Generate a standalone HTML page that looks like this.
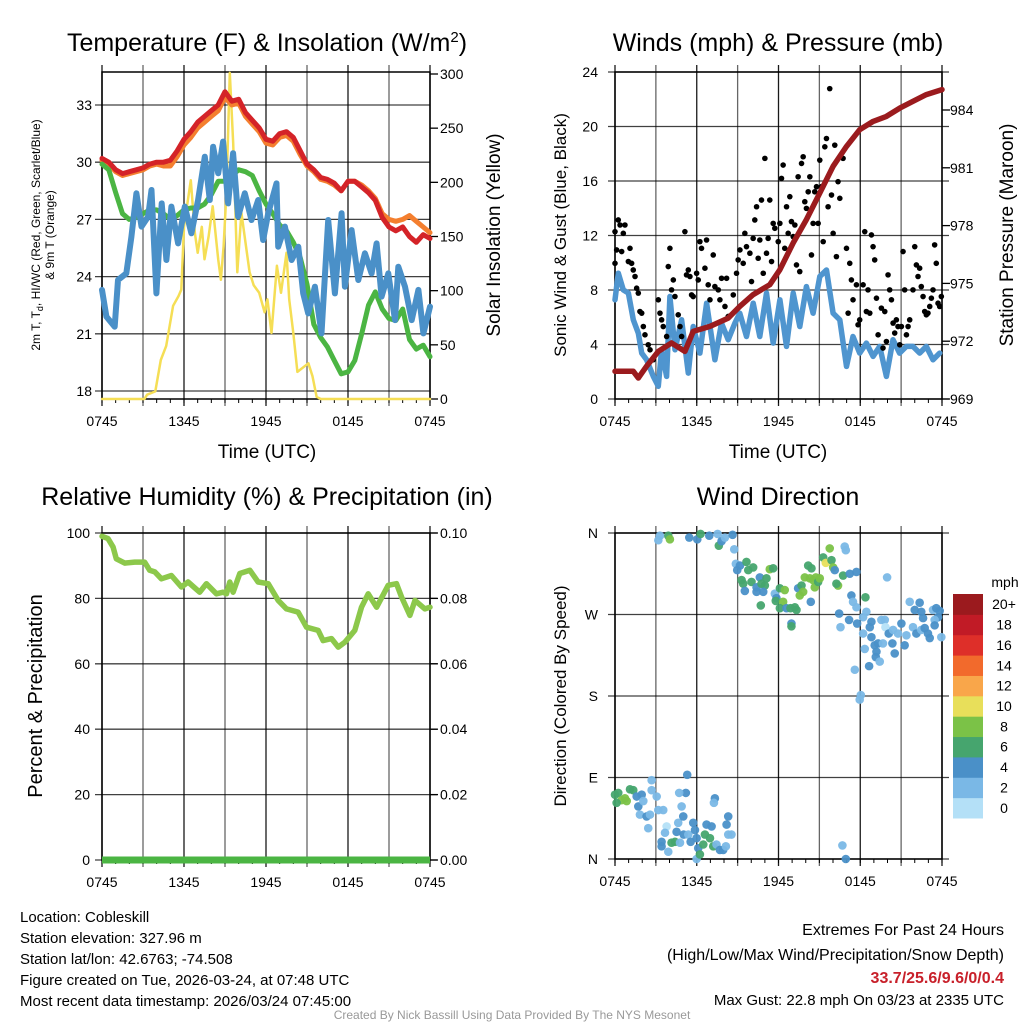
<!DOCTYPE html>
<html><head><meta charset="utf-8"><style>
body{margin:0;background:#fff;}
svg{display:block;font-family:"Liberation Sans",sans-serif;}
</style></head><body>
<svg id="c" width="1024" height="1024" viewBox="0 0 1024 1024">
<g font-size="25" text-anchor="middle">
<text x="267" y="51">Temperature (F) &amp; Insolation (W/m<tspan dy="-9" font-size="15">2</tspan><tspan dy="9">)</tspan></text>
<text x="778" y="51">Winds (mph) &amp; Pressure (mb)</text>
<text x="267" y="505">Relative Humidity (%) &amp; Precipitation (in)</text>
<text x="778" y="505">Wind Direction</text>
</g>
<g font-size="19" text-anchor="middle">
<text x="267" y="458">Time (UTC)</text>
<text x="778" y="458">Time (UTC)</text>
<text transform="translate(500,235) rotate(-90)">Solar Insolation (Yellow)</text>
<text transform="translate(1013,235) rotate(-90)">Station Pressure (Maroon)</text>
</g>
<g font-size="17" text-anchor="middle">
<text transform="translate(566,235) rotate(-90)">Sonic Wind &amp; Gust (Blue, Black)</text>
<text transform="translate(566,696) rotate(-90)">Direction (Colored By Speed)</text>
<text transform="translate(42,696) rotate(-90)" font-size="20">Percent &amp; Precipitation</text>
</g>
<g font-size="12" text-anchor="middle">
<text transform="translate(40,235) rotate(-90)">2m T, T<tspan dy="3" font-size="9">d</tspan><tspan dy="-3">, HI/WC (Red, Green, Scarlet/Blue)</tspan></text>
<text transform="translate(54,235) rotate(-90)">&amp; 9m T (Orange)</text>
</g>
<g font-size="15">
<text x="20" y="922">Location: Cobleskill</text>
<text x="20" y="943">Station elevation: 327.96 m</text>
<text x="20" y="964">Station lat/lon: 42.6763; -74.508</text>
<text x="20" y="985">Figure created on Tue, 2026-03-24, at 07:48 UTC</text>
<text x="20" y="1006">Most recent data timestamp: 2026/03/24 07:45:00</text>
</g>
<g font-size="16" text-anchor="end">
<text x="1004" y="935">Extremes For Past 24 Hours</text>
<text x="1004" y="960">(High/Low/Max Wind/Precipitation/Snow Depth)</text>
<text x="1004" y="983" fill="#c8202a" font-weight="bold">33.7/25.6/9.6/0/0.4</text>
<text x="1004" y="1005" font-size="15">Max Gust: 22.8 mph On 03/23 at 2335 UTC</text>
</g>
<text x="512" y="1019" font-size="12" fill="#999" text-anchor="middle">Created By Nick Bassill Using Data Provided By The NYS Mesonet</text>
</svg>
<script>
// ---- data ----
const xTickLabels=["0745","1345","1945","0145","0745"];
const tempTicks=[18,21,24,27,30,33];
const solarTicks=[0,50,100,150,200,250,300];
const windTicks=[0,4,8,12,16,20,24];
const presTicks=[969,972,975,978,981,984];
const rhTicks=[0,20,40,60,80,100];
const precipTicks=["0.00","0.02","0.04","0.06","0.08","0.10"];
const dirTicks=["N","E","S","W","N"];
const speedBins=["0","2","4","6","8","10","12","14","16","18","20+"];
const speedColors=["#b4e0f7","#7ab8e6","#4a90c8","#46a56e","#7bc247","#e8df5a","#f9a64a","#f26a2c","#de2f29","#c11b26","#9b1a1e"];

const halfHours=Array.from({length:49},(_,i)=>i*0.5);
const tempRed=[30.2,30.0,29.6,29.4,29.5,29.6,29.7,29.9,30.0,30.0,30.1,30.6,31.2,31.6,32.1,32.4,32.7,33.0,33.7,33.2,33.3,32.6,32.2,31.8,31.2,31.1,31.5,31.6,31.3,30.6,29.9,29.6,29.2,29.1,28.9,28.5,29.0,29.0,28.7,28.4,28.0,27.1,26.6,26.4,26.6,26.1,25.8,26.2,26.0];
const tempOrange=[30.1,29.9,29.5,29.3,29.4,29.5,29.6,29.8,29.9,29.8,29.8,30.3,30.9,31.3,31.8,32.1,32.4,32.7,33.4,33.0,33.1,32.4,32.0,31.6,31.0,30.9,31.3,31.4,31.1,30.4,29.8,29.5,29.1,29.0,28.8,28.5,29.0,29.0,28.8,28.5,28.1,27.3,27.0,26.9,27.0,27.2,26.9,26.6,26.3];
const tempGreen=[29.9,29.6,28.4,27.3,27.0,27.1,27.3,27.5,27.5,27.3,27.0,27.2,27.5,27.6,27.6,27.8,28.3,29.0,29.0,29.3,29.6,29.5,29.3,28.5,27.8,27.3,26.7,26.4,25.8,25.0,23.6,21.5,20.8,20.3,19.6,18.9,19.0,19.6,21.0,22.5,23.2,22.3,21.8,21.7,22.3,20.7,20.2,20.4,19.8];
const blueHours=[0,0.32,0.93,1.17,1.78,2.15,2.52,2.89,3.37,3.62,3.98,4.37,4.71,5.08,5.57,6.06,6.54,7.03,7.52,7.89,8.13,8.50,8.86,9.23,9.59,9.96,10.45,10.94,11.43,11.79,12.16,12.77,12.89,13.38,13.87,14.36,14.72,15.09,15.58,16.06,16.55,17.04,17.53,17.77,18.26,18.75,19.24,19.73,20.09,20.46,20.95,21.44,21.68,22.17,22.66,23.15,23.52,24];
const tempBlue=[23.30,21.90,21.37,23.82,24.17,26.09,28.37,26.62,27.14,28.54,23.12,27.84,24.87,27.67,25.74,27.67,26.27,28.02,30.29,28.02,30.81,29.42,31.08,27.84,30.47,27.14,28.37,26.97,28.02,25.92,27.32,28.89,25.57,26.62,24.87,25.57,23.12,22.07,23.47,21.02,26.97,23.12,27.32,23.47,26.44,23.82,25.22,24.17,25.74,22.95,24.17,21.72,24.52,23.47,21.72,23.30,21.02,22.42];
const solarHours=[0,3.1,3.3,3.9,4.3,4.7,5.2,5.6,5.8,6.0,6.5,6.8,7.0,7.3,7.5,7.8,8.1,8.5,8.7,8.9,9.1,9.35,9.6,9.9,10.2,10.6,10.8,11.1,11.5,11.9,12.1,12.4,12.8,13.1,13.5,13.7,14.0,14.3,15.1,15.4,15.7,16.0,24];
const solar=[0,0,4,7,36,49,86,95,101,159,202,153,135,159,129,150,178,129,110,141,190,301,236,117,172,135,117,105,98,80,92,61,123,98,135,92,61,25,33,21,2,0,0];

const windHours=[0,0.24,0.61,0.98,1.34,1.71,1.96,2.32,2.81,3.18,3.42,3.79,4.03,4.40,4.89,5.38,5.74,6.23,6.72,7.33,7.82,8.31,8.80,9.16,9.65,10.14,10.63,11.12,11.61,12.10,12.59,13.08,13.56,14.05,14.54,15.03,15.52,16.01,16.50,16.99,17.47,17.96,18.45,18.94,19.43,19.92,20.40,20.89,21.38,21.87,22.36,22.85,23.34,23.83];
const windSpeed=[7.28,9.23,8.01,7.77,5.81,4.84,3.37,2.88,1.66,0.93,3.61,1.66,7.52,3.61,5.81,1.90,5.32,3.37,7.03,2.88,5.57,4.35,5.57,6.30,4.59,7.03,4.59,7.77,4.10,7.28,3.86,7.77,5.32,8.25,6.30,8.99,9.47,6.30,5.81,2.39,4.59,3.37,4.10,3.13,3.86,1.66,4.35,3.37,3.86,3.86,3.37,3.86,2.88,3.37];
const presHours=[0,1.34,1.71,2.32,3.18,4.15,5.13,5.74,6.97,8.31,9.17,10.14,11.36,12.10,13.08,14.05,15.03,16.01,16.99,17.96,18.94,19.92,20.90,21.87,22.85,24];
const pressure=[970.44,970.44,970.09,970.70,971.47,971.91,971.47,972.51,972.77,973.20,973.81,974.42,974.93,975.71,977.10,978.31,979.69,981.08,982.11,982.98,983.41,983.67,984.10,984.45,984.80,985.06];
const gustHours=[0,0.24,0.37,0.73,0.61,0.12,0.49,0,0.98,1.10,1.22,1.34,1.47,1.59,1.71,1.83,1.96,2.08,2.20,2.44,2.57,2.81,3.18,3.30,3.42,3.54,3.79,3.91,4.03,4.15,4.28,4.40,4.64,4.77,4.89,5.13,5.25,5.38,5.50,5.62,5.74,5.99,6.11,6.23,6.35,6.60,6.72,6.84,6.97,7.21,7.33,7.58,7.70,7.82,8.07,8.19,8.31,8.68,8.92,9.04,9.17,9.41,9.53,9.65,9.90,10.02,10.14,10.26,10.39,10.51,10.63,10.75,10.88,11.00,11.12,11.24,11.36,11.49,11.61,11.73,11.98,12.10,12.22,12.34,12.46,12.59,12.71,12.83,12.95,13.08,13.20,13.32,13.44,13.56,13.69,13.81,13.93,14.05,14.18,14.30,14.42,14.54,14.66,14.79,14.91,15.03,15.15,15.28,15.40,15.52,15.64,15.76,15.89,16.01,16.13,16.25,16.37,16.50,16.74,16.99,17.11,17.23,17.35,17.47,17.72,17.84,17.96,18.21,18.33,18.45,18.57,18.70,18.82,18.94,19.06,19.19,19.31,19.55,19.67,19.80,19.92,20.04,20.16,20.29,20.41,20.53,20.65,20.77,20.90,21.02,21.14,21.26,21.39,21.51,21.63,21.87,22.00,22.12,22.24,22.36,22.48,22.61,22.73,22.85,22.97,23.10,23.22,23.34,23.46,23.58,23.71,23.83,23.95];
const gustSpeed=[12.28,13.14,12.77,12.77,12.16,10.94,10.82,9.96,10.09,11.06,9.96,9.47,8.99,8.13,7.77,6.42,6.30,5.32,4.71,3.98,3.61,2.88,7.28,6.30,5.81,5.32,4.59,9.72,11.06,8.01,8.74,7.52,6.18,5.32,4.59,12.28,9.11,9.47,8.99,7.64,7.52,9.23,8.74,11.55,11.06,9.60,11.67,8.38,7.28,10.57,8.25,8.01,7.28,8.86,6.79,8.86,6.06,7.64,9.23,10.21,10.94,9.96,12.16,11.18,10.70,8.62,11.79,13.14,14.11,10.33,11.67,14.60,9.23,17.66,10.70,11.79,14.60,10.09,12.89,12.53,11.55,12.89,16.19,17.17,11.06,14.11,12.16,14.85,13.02,11.92,12.77,9.84,16.31,9.35,17.29,17.78,14.48,13.99,15.21,16.31,10.57,12.89,15.21,15.58,12.89,17.53,15.58,11.55,18.51,19.12,14.11,22.78,14.97,12.16,18.63,10.45,15.95,14.73,17.66,11.06,6.30,9.96,8.74,7.28,8.38,5.45,5.81,8.38,12.28,6.42,8.01,6.30,12.04,11.18,10.21,7.40,4.71,6.67,3.74,6.42,4.22,9.11,8.01,7.28,5.57,4.84,5.81,5.32,3.98,5.32,10.82,8.01,4.71,5.32,5.81,8.01,11.18,9.84,8.99,9.60,8.25,7.52,6.42,6.18,6.30,6.79,7.40,8.01,11.31,9.96,7.03,6.79,7.52];

const rhHours=[0,0.44,0.81,1.05,1.66,2.39,3.12,3.49,3.86,4.35,5.08,5.81,6.30,7.15,7.64,8.37,8.86,9.11,9.35,9.59,10.08,10.82,11.42,12.16,12.89,13.5,14.35,14.96,15.82,16.18,16.79,17.28,17.77,18.5,18.99,19.48,20.09,20.94,21.55,21.92,22.53,22.9,23.63,24];
const rh=[99.0,98.3,95.7,92.1,90.8,91.1,91.1,88.6,88.1,86.0,87.0,83.5,85.0,81.9,84.5,81.4,81.9,81.4,85.0,81.9,87.6,88.6,85.0,84.5,79.4,76.8,75.8,71.2,70.2,67.1,67.7,65.1,66.6,70.2,77.3,81.4,77.3,84.0,84.5,80.4,74.8,79.4,76.8,77.3];
const precip=[0,0];

const dirHours=[3.30,3.18,3.91,4.03,5.45,6.04,6.28,6.92,7.53,7.62,7.82,8.07,8.63,8.75,8.87,8.97,9.17,9.65,9.78,10.14,9.29,9.41,9.53,10.02,10.39,10.63,10.75,11.00,10.39,10.88,11.12,11.36,11.61,10.70,11.73,11.85,12.10,12.46,11.80,12.34,12.10,12.59,12.88,13.20,13.32,12.95,12.95,13.44,13.69,13.56,13.81,13.93,14.18,14.42,14.30,14.54,14.66,14.74,14.91,15.03,14.37,15.28,15.47,15.76,15.89,16.01,16.13,16.37,16.25,16.74,16.86,16.94,17.23,17.72,18.38,17.35,17.47,17.72,16.45,17.18,16.55,17.77,18.21,18.45,18.70,18.82,18.21,18.82,19.06,18.33,19.19,19.14,19.43,18.65,19.31,19.67,19.55,19.80,19.85,20.09,19.97,20.41,20.36,20.53,21.02,20.77,21.26,21.39,21.63,22.00,22.36,22.48,22.61,21.87,22.12,22.48,22.73,22.97,23.10,23.34,23.58,23.83,23.71,23.46,23.46,23.95,17.60,18.04,17.96,
0,0.24,0.49,0.73,0.86,1.10,1.34,0.12,1.59,1.96,1.71,1.83,2.08,2.32,2.57,2.44,2.69,2.69,3.06,3.18,3.54,3.79,3.67,3.42,3.42,3.91,4.15,4.40,4.52,4.77,4.64,4.89,5.01,5.20,4.71,5.30,5.04,5.38,5.55,5.74,5.87,5.99,6.11,5.99,6.23,6.48,6.60,6.72,6.97,7.21,7.09,7.33,7.26,7.45,7.70,7.94,8.14,8.19,8.31,8.31,8.55,16.69,16.94];
const dirDeg=[357,352,357,353,355,353,359,357,359,346,351,355,358,342,326,319,324,328,319,322,308,304,296,306,300,311,304,302,295,295,310,320,321,280,293,288,299,297,285,284,277,277,277,278,275,260,257,299,302,291,295,311,324,321,310,308,300,311,306,310,284,333,327,343,330,322,319,302,304,313,345,341,315,317,289,291,284,278,271,264,256,260,267,273,256,262,249,245,236,232,229,223,218,213,238,238,264,264,256,249,311,253,238,227,260,249,236,247,284,275,283,273,266,256,249,253,255,249,244,275,277,274,267,264,258,245,209,181,176,
71,73,65,67,64,77,76,62,69,71,58,49,64,47,49,34,87,76,69,54,54,36,29,19,14,8,18,19,30,18,40,58,47,73,73,93,27,27,19,40,32,23,12,0,5,16,27,38,23,14,36,67,62,16,10,10,14,38,47,27,27,15,0];
const dirSpeed=[2.5,2.5,6.5,8.5,4.5,4.5,6.5,4.5,2.5,6.5,4.5,2.5,4.5,2.5,2.5,4.5,4.5,6.5,6.5,6.5,6.5,6.5,4.5,6.5,4.5,4.5,6.5,6.5,4.5,4.5,6.5,8.5,6.5,6.5,2.5,4.5,6.5,8.5,6.5,8.5,6.5,4.5,6.5,6.5,6.5,4.5,6.5,4.5,6.5,8.5,8.5,8.5,6.5,6.5,8.5,8.5,8.5,8.5,6.5,8.5,4.5,6.5,10.5,8.5,6.5,8.5,4.5,8.5,6.5,6.5,2.5,2.5,4.5,4.5,6.5,4.5,2.5,2.5,4.5,4.5,2.5,4.5,2.5,2.5,4.5,4.5,2.5,4.5,4.5,2.5,4.5,4.5,2.5,4.5,4.5,2.5,2.5,2.5,0.8,4.5,2.5,2.5,4.5,4.5,4.5,2.5,4.5,2.5,2.5,4.5,4.5,4.5,4.5,2.5,4.5,2.5,4.5,4.5,4.5,2.5,4.5,4.5,4.5,2.5,4.5,2.5,2.5,2.5,2.5,
6.5,6.5,8.5,8.5,8.5,6.5,6.5,6.5,4.5,4.5,4.5,2.5,2.5,4.5,2.5,2.5,2.5,2.5,2.5,2.5,2.5,0.8,2.5,4.5,4.5,2.5,6.5,6.5,4.5,2.5,2.5,2.5,4.5,4.5,2.5,4.5,4.5,2.5,4.5,4.5,4.5,4.5,4.5,2.5,6.5,6.5,6.5,4.5,6.5,6.5,4.5,4.5,2.5,2.5,4.5,4.5,2.5,4.5,4.5,2.5,2.5,2.5,4.5];

// ---- drawing ----
const svg=document.getElementById('c');
const NS='http://www.w3.org/2000/svg';
function mk(tag,attrs,parent){const e=document.createElementNS(NS,tag);for(const k in attrs)e.setAttribute(k,attrs[k]);(parent||svg).appendChild(e);return e;}
function lin(d0,d1,p0,p1){return v=>p0+(v-d0)/(d1-d0)*(p1-p0);}

function frame(x0,x1,y0,y1,nH,name){
  const g=mk('g',{});
  
  
  const xs=lin(0,24,x0,x1);
  for(let h=0;h<=24;h+=3){const x=xs(h);mk('line',{x1:x,x2:x,y1:y0-7,y2:y1+7,stroke:'#000','stroke-width':1.3,'stroke-opacity':h%6===0?0.9:0.6},g);}
  for(let h=0;h<=24;h+=1){const x=xs(h);mk('line',{x1:x,x2:x,y1:y1,y2:y1+4,stroke:'#000','stroke-width':1},g);}
  if(nH>0){for(let i=0;i<=nH;i++){const y=y0+(y1-y0)*i/nH;mk('line',{x1:x0-7,x2:x1+7,y1:y,y2:y,stroke:'#000','stroke-width':1.3,'stroke-opacity':0.75},g);}}
  mk('rect',{x:x0,y:y0,width:x1-x0,height:y1-y0,fill:'none',stroke:'#000','stroke-width':1.5},g);
  xTickLabels.forEach((t,i)=>{const tx=mk('text',{x:xs(i*6),y:y1+27,'font-size':14,'text-anchor':'middle'},g);tx.textContent=t;});
  return xs;
}
function ticksL(ys,vals,x,name,labels){
  vals.forEach((v,i)=>{const t=mk('text',{x:x,y:ys(v)+5,'font-size':14,'text-anchor':'end'});
  
  
  t.textContent=labels?labels[i]:v;});
}
function ticksR(ys,vals,x,name,labels){
  vals.forEach((v,i)=>{const t=mk('text',{x:x,y:ys(v)+5,'font-size':14,'text-anchor':'start'});
  
  
  t.textContent=labels?labels[i]:v;});
}
function path(xs,ys,X,Y,color,w,name){
  const d=X.map((h,i)=>(i?'L':'M')+xs(h).toFixed(1)+','+ys(Y[i]).toFixed(1)).join('');
  const p=mk('path',{d:d,fill:'none',stroke:color,'stroke-width':w,'stroke-linejoin':'round','stroke-linecap':'round'});
  
  
}

// Panel 1
{const x0=102,x1=430,y0=72,y1=399;
 const xs=frame(x0,x1,y0,y1,0,'temp');
 const yT=lin(18,33,391,105), yS=lin(0,300,399,74);
 const g=mk('g',{});
 tempTicks.forEach(v=>{mk('line',{x1:x0-7,x2:x1,y1:yT(v),y2:yT(v),stroke:'#000','stroke-width':1.3,'stroke-opacity':0.75},g);});
 solarTicks.forEach(v=>{mk('line',{x1:x1,x2:x1+8,y1:yS(v),y2:yS(v),stroke:'#000','stroke-width':1.3},g);});
 ticksL(yT,tempTicks,92,'temp');
 ticksR(yS,solarTicks,440,'solar');
 path(xs,yS,solarHours,solar,'#f5de55',2.5,'solar-line');
 path(xs,yT,halfHours,tempOrange,'#f47f2f',5,'temp-9m-line');
 path(xs,yT,halfHours,tempRed,'#d42328',5,'temp-2m-line');
 path(xs,yT,halfHours,tempGreen,'#4bb543',5,'dewpoint-line');
 path(xs,yT,blueHours,tempBlue,'#4a90c8',6,'heat-index-line');
}
// Panel 2
{const x0=615,x1=942,y0=72,y1=399;
 const xs=frame(x0,x1,y0,y1,6,'winds');
 const yW=lin(0,24,399,72), yP=lin(969,984,399,110);
 const g=mk('g',{});
 presTicks.forEach(v=>{mk('line',{x1:x1,x2:x1+8,y1:yP(v),y2:yP(v),stroke:'#000','stroke-width':1.3},g);});
 ticksL(yW,windTicks,598,'wind');
 ticksR(yP,presTicks,950,'pressure');
 path(xs,yW,windHours,windSpeed,'#4f95cf',5.5,'wind-speed-line');
 gustHours.forEach((h,i)=>{const c=mk('circle',{cx:xs(h),cy:yW(gustSpeed[i]),r:2.8,fill:'#000'});
  
  });
 path(xs,yP,presHours,pressure,'#9b1b1e',5.5,'pressure-line');
}
// Panel 3
{const x0=102,x1=430,y0=533,y1=860;
 const xs=frame(x0,x1,y0,y1,5,'rh');
 const yR=lin(0,100,860,533);
 const g=mk('g',{});
 rhTicks.forEach(v=>{mk('line',{x1:x1,x2:x1+8,y1:yR(v),y2:yR(v),stroke:'#000','stroke-width':1.3},g);});
 ticksL(yR,rhTicks,90,'rh');
 ticksR(yR,rhTicks,440,'precip',precipTicks);
 path(xs,yR,rhHours,rh,'#8cc84b',5.5,'rh-line');
 const pr=mk('line',{x1:x0,x2:x1,y1:yR(precip[0]*1000),y2:yR(precip[1]*1000),stroke:'#4bb543','stroke-width':7});
 
 
}
// Panel 4
{const x0=615,x1=942,y0=533,y1=859;
 const xs=frame(x0,x1,y0,y1,4,'direction');
 const yD=lin(0,360,859,533);
 ticksL(yD,[0,90,180,270,360],598,'direction',dirTicks);
 dirHours.forEach((h,i)=>{const s=dirSpeed[i];const bi=Math.min(10,Math.floor(s/2+0.5));
  const c=mk('circle',{cx:xs(h),cy:yD(dirDeg[i]),r:4.3,fill:speedColors[bi],'fill-opacity':0.95});
  
  });
 const t=mk('text',{x:1005,y:587,'font-size':14,'text-anchor':'middle'});
 
 
 t.textContent='mph';
 const bh=224/11;
 speedBins.forEach((lab,i)=>{const y=818-(i+1)*bh;
  const r=mk('rect',{x:953,y:y,width:30,height:bh+0.5,fill:speedColors[i]});
  
  
  const tx=mk('text',{x:1004,y:y+bh/2+5,'font-size':14,'text-anchor':'middle'});
  
  
  tx.textContent=lab;});
}
</script>
</body></html>
